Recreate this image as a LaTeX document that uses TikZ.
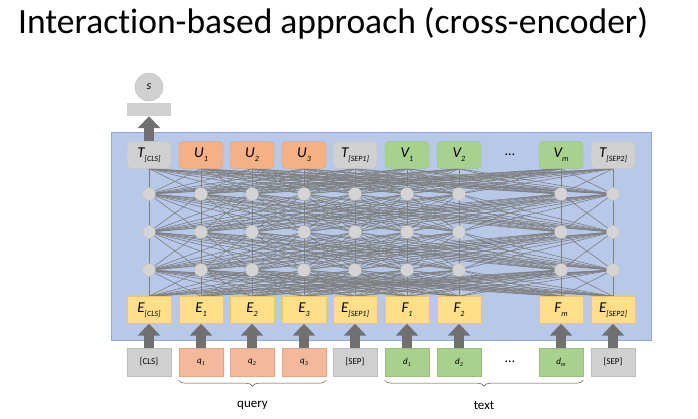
\documentclass[tikz,border=0pt]{standalone}
\usepackage{fontspec}
\setmainfont[Ligatures=NoCommon]{Carlito}
\usetikzlibrary{arrows.meta, positioning, calc, backgrounds, decorations.pathreplacing}
\pgfdeclarelayer{back}
\pgfsetlayers{back,background,main}
\definecolor{panelfill}{HTML}{B7C8E8}
\definecolor{panelline}{HTML}{8FA8D6}
\definecolor{grayfill}{HTML}{D0D0D0}
\definecolor{grayline}{HTML}{BDBDBD}
\definecolor{orangefill}{HTML}{F4B183}
\definecolor{orangeline}{HTML}{E69A6C}
\definecolor{queryfill}{HTML}{F3B99C}
\definecolor{queryline}{HTML}{E8A585}
\definecolor{greenfill}{HTML}{A9D18E}
\definecolor{greenline}{HTML}{94C27A}
\definecolor{yellowfill}{HTML}{FFDF88}
\definecolor{yellowline}{HTML}{F0C65E}
\definecolor{nodefill}{HTML}{D4D4D4}
\definecolor{linkgray}{HTML}{7E7E7E}
\definecolor{arrowgray}{HTML}{707070}
\newcommand{\tokensub}[1]{\raisebox{-4pt}{\fontsize{8}{9}\selectfont#1}}
\newcommand{\inputsub}[1]{\raisebox{-2pt}{\fontsize{6}{7}\selectfont#1}}
\tikzset{
  outbox/.style={draw=#1line, fill=#1fill, rounded corners=4pt, minimum width=44pt, minimum height=27pt,
    inner sep=0pt, font=\fontsize{15}{16}\selectfont},
  embbox/.style={draw=yellowline, fill=yellowfill, minimum width=44pt, minimum height=27pt,
    inner sep=0pt, font=\fontsize{15}{16}\selectfont},
  inbox/.style={draw=#1line, fill=#1fill, minimum width=44pt, minimum height=28pt,
    inner sep=0pt, font=\fontsize{9}{10}\selectfont},
  hid/.style={circle, fill=nodefill, draw=grayline, line width=0.3pt, minimum size=13pt, inner sep=0pt},
  link/.style={draw=linkgray, line width=0.6pt},
  blockarr/.style={draw=arrowgray, line width=10pt, -{Triangle[width=22pt, length=12pt]}},
  brace/.style={decorate, decoration={brace, mirror, amplitude=6pt}, draw=black!70, line width=0.5pt},
}

\begin{document}
\begin{tikzpicture}[x=1pt, y=-1pt]
  \useasboundingbox (0,0) rectangle (698,418);

  \node[anchor=base west, inner sep=0pt, font=\fontsize{35.5}{40}\selectfont] (title) at (18,33)
    {Interaction-based approach (cross-encoder)};

  % one column per token
  \foreach \i/\x/\oc/\out/\emb/\ic/\inp in {
      1/149/gray/{T\tokensub{[CLS]}}/{E\tokensub{[CLS]}}/gray/{[CLS]},
      2/201/orange/{U\tokensub{1}}/{E\tokensub{1}}/query/{\textit{q\inputsub{1}}},
      3/252/orange/{U\tokensub{2}}/{E\tokensub{2}}/query/{\textit{q\inputsub{2}}},
      4/304/orange/{U\tokensub{3}}/{E\tokensub{3}}/query/{\textit{q\inputsub{3}}},
      5/355/gray/{T\tokensub{[SEP1]}}/{E\tokensub{[SEP1]}}/gray/{[SEP]},
      6/407/green/{V\tokensub{1}}/{F\tokensub{1}}/green/{\textit{d\inputsub{1}}},
      7/459/green/{V\tokensub{2}}/{F\tokensub{2}}/green/{\textit{d\inputsub{2}}},
      8/561/green/{V\tokensub{m}}/{F\tokensub{m}}/green/{\textit{d\inputsub{m}}},
      9/613/gray/{T\tokensub{[SEP2]}}/{E\tokensub{[SEP2]}}/gray/{[SEP]}}{
    \node[outbox=\oc] (top\i) at (\x,155) {\textit{\out}};
    \node[embbox] (emb\i) at (\x,310) {\textit{\emb}};
    \node[inbox=\ic] (in\i) at (\x,362) {\inp};
    \foreach \r/\y in {1/194, 2/232, 3/270}
      \node[hid] (h\r-\i) at (\x,\y) {};
  }

  \node[font=\fontsize{14}{16}\selectfont] (dotstop) at (510,155) {\ldots};
  \node[font=\fontsize{14}{16}\selectfont] (dotsin) at (510,362) {\ldots};

  % score on top of [CLS]
  \node[fill=grayfill, minimum width=44pt, minimum height=13pt, inner sep=0pt] (bar) at (149,109.5) {};
  \node[circle, fill=grayfill, draw=grayline, minimum size=28pt, inner sep=0pt,
    font=\fontsize{12}{14}\selectfont] (score) at (149,87) {\textit{s}};

  % fully connected layers
  \begin{scope}[on background layer]
    \foreach \i in {1,...,9}
      \foreach \j in {1,...,9} {
        \draw[link] (emb\i.north) -- (h3-\j.center);
        \draw[link] (h3-\i.center) -- (h2-\j.center);
        \draw[link] (h2-\i.center) -- (h1-\j.center);
        \draw[link] (h1-\i.center) -- (top\j.south);
      }
  \end{scope}
  \begin{pgfonlayer}{back}
    \draw[draw=panelline, fill=panelfill, line width=0.8pt] (111,132) rectangle (651,340);
  \end{pgfonlayer}

  \foreach \i in {1,...,9}
    \draw[blockarr] (in\i.north) -- (emb\i.south);
  \draw[blockarr] (top1.north) -- (bar.south);

  % groups of input tokens
  \draw[brace] ([yshift=-4pt]in2.south west) -- ([yshift=-4pt]in4.south east);
  \draw[brace] ([yshift=-4pt]in6.south west) -- ([yshift=-4pt]in8.south east);
  \node[font=\fontsize{13}{15}\selectfont] (query) at ($(in2.south)!0.5!(in4.south)+(0,29)$) {query};
  \node[font=\fontsize{13}{15}\selectfont] (text) at ($(in6.south)!0.5!(in8.south)+(0,29)$) {text};
\end{tikzpicture}
\end{document}
